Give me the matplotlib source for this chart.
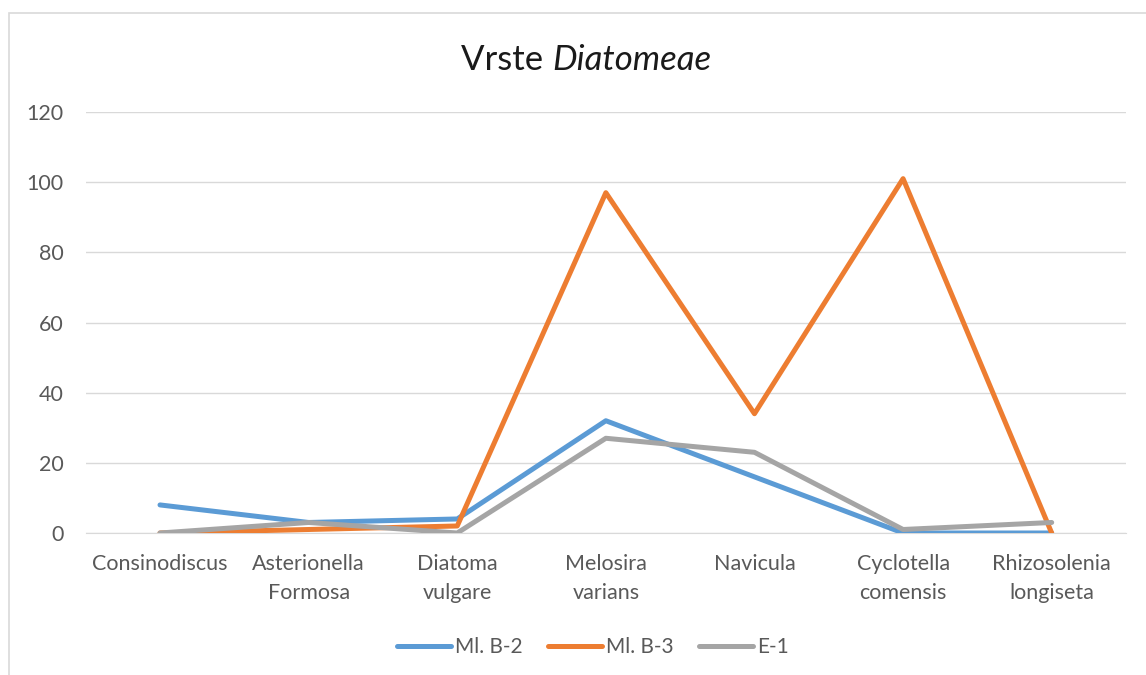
import matplotlib
matplotlib.use("Agg")
import matplotlib.pyplot as plt
from matplotlib.patches import Rectangle

categories = ["Consinodiscus", "Asterionella\nFormosa", "Diatoma\nvulgare", "Melosira\nvarians",
              "Navicula", "Cyclotella\ncomensis", "Rhizosolenia\nlongiseta"]
ml_b2 = [8, 3, 4, 32, 16, 0, 0]
ml_b3 = [0, 1, 2, 97, 34, 101, 0]
e1 = [0, 3, 0, 27, 23, 1, 3]
series_names = ["Ml. B-2", "Ml. B-3", "E-1"]
colors = ["#5B9BD5", "#ED7D31", "#A5A5A5"]
yticks = [0, 20, 40, 60, 80, 100, 120]

plt.rcParams['font.family'] = ['Lato', 'DejaVu Sans']

fig = plt.figure(figsize=(11.46, 6.75), dpi=100)
W, H = 1146, 675
ax = fig.add_axes([85.7 / W, 1 - 533 / H, (1126 - 85.7) / W, (533 - 112) / H])

x = list(range(len(categories)))
for vals, name, c in zip([ml_b2, ml_b3, e1], series_names, colors):
    ax.plot(x, vals, color=c, lw=3.6, label=name, solid_joinstyle='round',
            solid_capstyle='round', zorder=3)

ax.set_xlim(-0.5, len(categories) - 0.5)
ax.set_ylim(0, 120)
ax.set_yticks(yticks)
ax.set_xticks(x)
ax.set_xticklabels(categories, linespacing=1.6)
ax.grid(axis='y', color='#D9D9D9', lw=1)
ax.set_axisbelow(True)
for s in ['top', 'right', 'left']:
    ax.spines[s].set_visible(False)
ax.spines['bottom'].set_color('#D9D9D9')
ax.tick_params(axis='both', length=0, labelsize=15.5, labelcolor='#595959')
ax.tick_params(axis='y', pad=16)
ax.tick_params(axis='x', pad=15)

leg = fig.legend(loc='center', bbox_to_anchor=(593 / W, 1 - 647 / H), ncol=3, frameon=False,
                 fontsize=15, handlelength=2.6, columnspacing=1.2, handletextpad=0.2)
for t in leg.get_texts():
    t.set_color('#595959')

# chart border
fig.patches.append(Rectangle((9 / W, -0.1), 1.2, 1 - 13 / H + 0.1, transform=fig.transFigure,
                             fill=False, edgecolor='#D9D9D9', lw=1.2))

# title with italic part
ty = 1 - 60 / H
t1 = fig.text(0, ty, "Vrste ", fontsize=25, color='#1a1a1a', va='center')
t2 = fig.text(0, ty, "Diatomeae", fontsize=25, color='#1a1a1a', va='center', style='italic')
fig.canvas.draw()
r = fig.canvas.get_renderer()
w1 = t1.get_window_extent(r).width
w2 = t2.get_window_extent(r).width
cx = 586
start = cx - (w1 + w2) / 2
t1.set_x(start / W)
t2.set_x((start + w1) / W)

fig.savefig("out.png", dpi=100)
